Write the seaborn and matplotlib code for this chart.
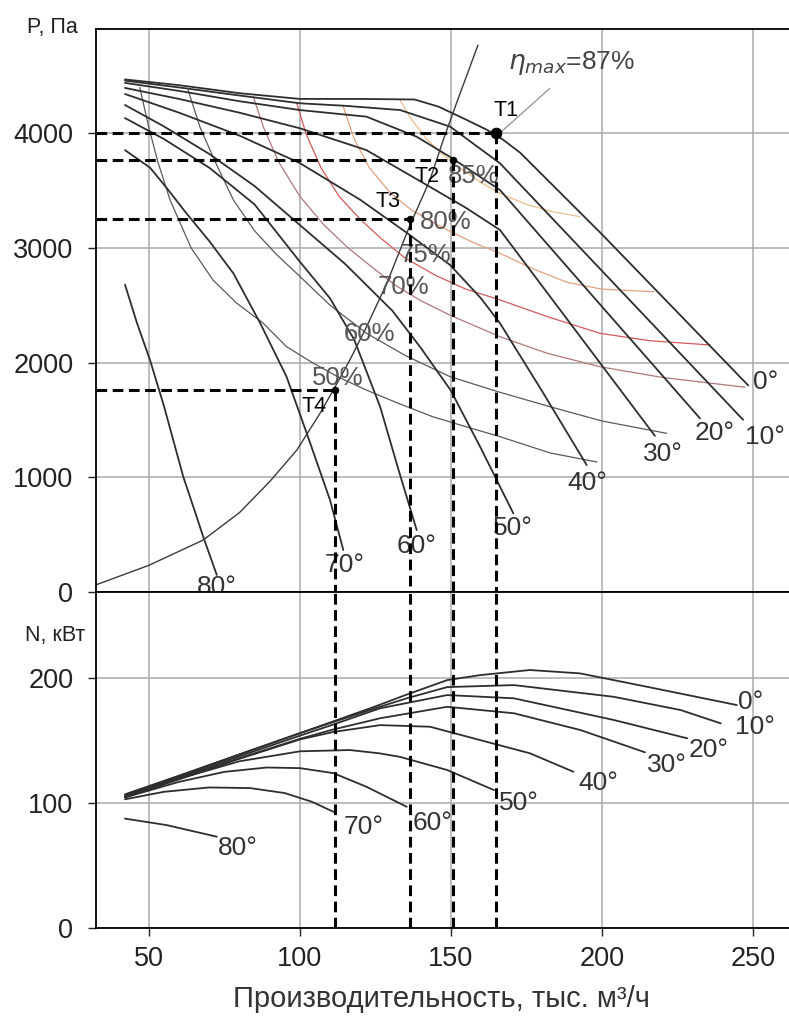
import matplotlib
matplotlib.use("Agg")
import matplotlib.pyplot as plt
import pandas as pd
import seaborn as sns

# ---------------- data ----------------
ANGLES = ["0°", "10°", "20°", "30°", "40°", "50°", "60°", "70°", "80°"]

# Pressure P (Па) vs capacity Q (тыс. м3/ч) for each blade angle
PQ_00 = [42.1, 60, 80, 100, 120, 138, 146, 155, 162, 167, 173, 200, 225, 248.5]
PP_00 = [4470, 4420, 4350, 4300, 4300, 4295, 4232, 4120, 4030, 3950, 3830, 3120, 2440, 1800]
PQ_10 = [42.1, 60, 80, 100, 115, 133.2, 149.8, 166.3, 203, 246.8]
PP_10 = [4460, 4400, 4330, 4262, 4240, 4203, 4058, 3738, 2718, 1500]
PQ_20 = [42.1, 60, 80, 100, 122.1, 138.7, 150, 166.3, 192.4, 232.5]
PP_20 = [4440, 4370, 4280, 4203, 4145, 3970, 3790, 3505, 2718, 1513]
PQ_30 = [42.1, 60, 80, 100, 122, 140, 155, 166.3, 178.8, 217.6]
PP_30 = [4396, 4300, 4180, 4044, 3854, 3580, 3350, 3156, 2718, 1360]
PQ_40 = [42.1, 60, 80, 100, 120, 135, 149.8, 160, 166.3, 180, 195]
PP_40 = [4343, 4180, 3980, 3740, 3420, 3140, 2850, 2560, 2342, 1760, 1105]
PQ_50 = [42.1, 55, 70, 85, 100, 115, 130.7, 140, 149.9, 160, 170.7]
PP_50 = [4247, 4060, 3820, 3540, 3200, 2860, 2450, 2130, 1760, 1250, 684]
PQ_60 = [42.1, 55, 70, 85, 100, 110, 118, 126.6, 132.5, 138.7]
PP_60 = [4133, 3950, 3700, 3380, 2880, 2560, 2200, 1614, 1080, 538]
PQ_70 = [42.1, 50.4, 56, 62.5, 70, 78, 86.9, 95.6, 102.3, 110, 114.4]
PP_70 = [3853, 3700, 3520, 3300, 3060, 2778, 2342, 1876, 1382, 800, 364]
PQ_80 = [42.1, 46, 50.4, 55, 61.4, 65, 68, 72.5]
PP_80 = [2680, 2350, 2020, 1620, 1003, 720, 480, 146]

# Power N (кВт) vs capacity Q for each blade angle
NQ_00 = [42.1, 60, 80, 100, 111.1, 125, 135.4, 148.8, 159.7, 176.2, 192.8, 214.9, 244.7]
NN_00 = [106, 121.5, 139, 156, 165.5, 177.5, 187, 198.6, 202.6, 206.7, 204, 193.3, 178.6]
NQ_10 = [42.1, 60, 80, 100, 111.1, 125, 135.4, 148.8, 170.9, 204, 226.1, 239.4]
NN_10 = [107, 122, 139, 156, 165, 176, 184, 193, 194.6, 185.2, 174.6, 163.9]
NQ_20 = [42.1, 60, 80, 100, 111.1, 126.6, 148.8, 170.9, 204, 228.3]
NN_20 = [105.5, 120.5, 137.5, 154, 163, 176, 186.6, 184, 166.6, 151.9]
NQ_30 = [42.1, 60, 80, 100, 111.1, 126.6, 148.8, 170.9, 193, 214.3]
NN_30 = [105, 119.5, 136, 151.5, 159, 168, 177.2, 172, 158.5, 140.7]
NQ_40 = [42.1, 60, 80, 100, 111.1, 126.6, 143.1, 159.7, 176.2, 190.6]
NN_40 = [104.5, 119, 135.5, 151, 157, 162.5, 161.2, 150.5, 139.9, 125.1]
NQ_50 = [42.1, 60, 80, 100.1, 116.6, 126.6, 133.2, 148.8, 164.3]
NN_50 = [105, 119.5, 133.5, 141.5, 142.5, 139.8, 137, 126.5, 110.4]
NQ_60 = [42.1, 60, 75, 89, 100, 111.1, 122.1, 135.4]
NN_60 = [104.5, 117, 125, 128.5, 128, 124, 113, 97]
NQ_70 = [42.1, 55, 70, 83.5, 95, 104, 111.1]
NN_70 = [103, 109, 112.5, 112, 108, 101, 93]
NQ_80 = [42.1, 55.9, 72.5]
NN_80 = [87.5, 82.3, 73]

# Efficiency contours
EFF = ["50%", "60%", "70%", "75%", "80%", "85%"]
EQ_50 = [47, 50, 53, 57, 64, 71.3, 79, 87.9, 95.6, 104.4, 113, 122, 133, 144, 155, 166.3, 183, 198.4]
EP_50 = [4400, 4050, 3750, 3420, 3000, 2718, 2520, 2342, 2138, 1995, 1870, 1760, 1640, 1527, 1440, 1353, 1210, 1132]
EQ_60 = [63, 67, 72, 78, 85, 92, 100.1, 110, 122.1, 135, 149.8, 166.3, 182.9, 200, 221.5]
EP_60 = [4377, 4050, 3750, 3418, 3150, 2950, 2749, 2500, 2255, 2060, 1876, 1740, 1614, 1490, 1382]
EQ_70 = [84.6, 88, 93, 100, 108, 116, 124, 131.5, 140, 150, 166.3, 182, 199.4, 220, 247.5]
EP_70 = [4319, 4050, 3750, 3450, 3200, 3000, 2830, 2676, 2540, 2410, 2225, 2080, 1963, 1870, 1784]
EQ_75 = [99, 102, 107, 113, 120, 127, 134.9, 145, 155, 166.3, 182, 199.4, 216, 235.9]
EP_75 = [4262, 4000, 3700, 3450, 3250, 3080, 2911, 2760, 2640, 2546, 2400, 2255, 2190, 2153]
EQ_80 = [114.4, 118, 123, 130, 137, 143.9, 150, 158, 166.3, 177, 188.5, 200, 217.2]
EP_80 = [4232, 3950, 3700, 3480, 3330, 3226, 3140, 3040, 2953, 2820, 2700, 2640, 2618]
EQ_85 = [133.2, 137, 142, 148, 154, 160, 166.3, 175, 183, 192.8]
EP_85 = [4290, 4120, 3950, 3800, 3680, 3570, 3476, 3380, 3320, 3272]

# System (network) curve
SYS_Q = [32.5, 50, 68, 80, 90, 99, 106.7, 111.1, 116.6, 122.1, 128.8, 136.5, 143.1, 147.5, 151.9, 159]
SYS_P = [60, 230, 451, 690, 960, 1236, 1557, 1760, 2024, 2312, 2691, 3200, 3593, 3942, 4264, 4770]

# Operating points
PT_NAMES = ["T1", "T2", "T3", "T4"]
PT_Q = [165.0, 150.6, 136.5, 111.5]
PT_P = [4000, 3770, 3250, 1760]

ETA_MAX = "87%"

X_TICKS = [50, 100, 150, 200, 250]
P_TICKS = [0, 1000, 2000, 3000, 4000]
N_TICKS = [0, 100, 200]

# ---------------- layout ----------------
XLIM = (32.4, 262.0)
PLIM = (0, 4907)
NLIM = (0, 269.5)

P_LAB_POS = [(250.0, 1830), (247.4, 1350), (230.9, 1385), (213.7, 1202), (188.5, 948),
             (164.0, 560), (132.2, 399), (108.3, 230), (66.0, 40)]
N_LAB_POS = [(245.2, 181), (244.1, 161), (228.8, 142.5), (215.1, 130.6), (192.2, 116),
             (165.8, 100), (137.5, 84), (114.4, 80.8), (72.9, 64.3)]
EFF_LAB_POS = [(104.0, 1869), (114.4, 2249), (125.9, 2659), (133.2, 2938), (139.8, 3229), (149.1, 3627)]
PT_LAB_POS = [(164.0, 4195), (138.1, 3619), (125.0, 3408), (100.7, 1616)]
EFF_COLORS = ["#5a5a5a", "#5a5a5a", "#b07878", "#d25a5a", "#e4a080", "#e8c08a"]

# ---------------- build tables ----------------
PQ = [PQ_00, PQ_10, PQ_20, PQ_30, PQ_40, PQ_50, PQ_60, PQ_70, PQ_80]
PP = [PP_00, PP_10, PP_20, PP_30, PP_40, PP_50, PP_60, PP_70, PP_80]
NQ = [NQ_00, NQ_10, NQ_20, NQ_30, NQ_40, NQ_50, NQ_60, NQ_70, NQ_80]
NN = [NN_00, NN_10, NN_20, NN_30, NN_40, NN_50, NN_60, NN_70, NN_80]
EQ = [EQ_50, EQ_60, EQ_70, EQ_75, EQ_80, EQ_85]
EP = [EP_50, EP_60, EP_70, EP_75, EP_80, EP_85]

dfp = pd.concat([pd.DataFrame({"Q": q, "P": p, "angle": a}) for a, q, p in zip(ANGLES, PQ, PP)])
dfn = pd.concat([pd.DataFrame({"Q": q, "N": n, "angle": a}) for a, q, n in zip(ANGLES, NQ, NN)])
dfe = pd.concat([pd.DataFrame({"Q": q, "P": p, "eff": e}) for e, q, p in zip(EFF, EQ, EP)])
dfs = pd.DataFrame({"Q": SYS_Q, "P": SYS_P})

# ---------------- style ----------------
sns.set_theme(style="white")
plt.rcParams["font.family"] = ["Liberation Sans", "DejaVu Sans"]
plt.rcParams["mathtext.fontset"] = "dejavusans"

fig = plt.figure(figsize=(7.89, 10.16), dpi=100)
ax1 = fig.add_axes([0.1213, 0.4176, 0.8787, 0.5535])
ax2 = fig.add_axes([0.1213, 0.0869, 0.8787, 0.3307])

GRID = "#ababab"
LINE = "#2e2e2e"

for ax, ylim, yt in ((ax1, PLIM, P_TICKS), (ax2, NLIM, N_TICKS)):
    ax.set_xlim(*XLIM)
    ax.set_ylim(*ylim)
    ax.set_xticks(X_TICKS)
    ax.set_yticks(yt)
    ax.grid(True, color=GRID, lw=1.1)
    ax.set_axisbelow(True)
    for s in ("left", "top", "bottom"):
        ax.spines[s].set_color("black")
        ax.spines[s].set_linewidth(1.3)
    ax.spines["right"].set_visible(False)
    ax.tick_params(axis="y", which="both", left=True, length=6, width=1, pad=10,
                   labelsize=19.5, colors="#222222")

ax1.tick_params(axis="x", bottom=False, labelbottom=False)
ax2.tick_params(axis="x", bottom=True, length=6, width=1, pad=7, labelsize=19.5, colors="#222222")

# efficiency contours
sns.lineplot(data=dfe, x="Q", y="P", hue="eff", units="eff", estimator=None, sort=False,
             palette=dict(zip(EFF, EFF_COLORS)), lw=0.9, legend=False, ax=ax1)
# blade angle curves
sns.lineplot(data=dfp, x="Q", y="P", units="angle", estimator=None, sort=False,
             color=LINE, lw=1.3, legend=False, ax=ax1)
# system curve
sns.lineplot(data=dfs, x="Q", y="P", estimator=None, sort=False, color="#3a3a3a", lw=1.0, ax=ax1)
# power curves
sns.lineplot(data=dfn, x="Q", y="N", units="angle", estimator=None, sort=False,
             color=LINE, lw=1.3, legend=False, ax=ax2)

# dashed construction lines
DASH = (0, (3.5, 1.8))
for q, p in zip(PT_Q, PT_P):
    ax1.plot([XLIM[0], q], [p, p], color="black", lw=2.2, ls=DASH, zorder=4)
    ax1.plot([q, q], [p, 0], color="black", lw=2.2, ls=DASH, zorder=4)
    ax2.plot([q, q], [0, NLIM[1]], color="black", lw=2.2, ls=DASH, zorder=4)

sns.scatterplot(x=PT_Q[:1], y=PT_P[:1], s=60, color="black", edgecolor="black", zorder=5, ax=ax1)
sns.scatterplot(x=PT_Q[1:], y=PT_P[1:], s=25, color="black", edgecolor="black", zorder=5, ax=ax1)

# labels
for lab, (x, y) in zip(ANGLES, P_LAB_POS):
    ax1.text(x, y, lab, fontsize=19, color="#333333", ha="left", va="center")
for lab, (x, y) in zip(ANGLES, N_LAB_POS):
    ax2.text(x, y, lab, fontsize=19, color="#333333", ha="left", va="center")
for lab, (x, y) in zip(EFF, EFF_LAB_POS):
    ax1.text(x, y, lab, fontsize=18.5, color="#555555", ha="left", va="center")
for lab, (x, y) in zip(PT_NAMES, PT_LAB_POS):
    ax1.text(x, y, lab, fontsize=15.5, color="black", ha="left", va="center")

ax1.text(168.9, 4612, r"$\eta_{max}$=" + ETA_MAX, fontsize=19, color="#444444", ha="left", va="center")
ax1.plot([182.8, 166.3], [4393, 4003], color="#9a9a9a", lw=1.0)

for ax in (ax1, ax2):
    ax.set_xlabel("")
    ax.set_ylabel("")

fig.text(0.066, 1 - 27 / 1016, "P, Па", fontsize=15.5, ha="center", va="center", color="#222222")
fig.text(0.070, 1 - 636 / 1016, "N, кВт", fontsize=15.5, ha="center", va="center", color="#222222")
fig.text(0.560, 1 - 999 / 1016, "Производительность, тыс. м³/ч", fontsize=21,
         ha="center", va="center", color="#333333")

fig.savefig("out.png", dpi=100)
